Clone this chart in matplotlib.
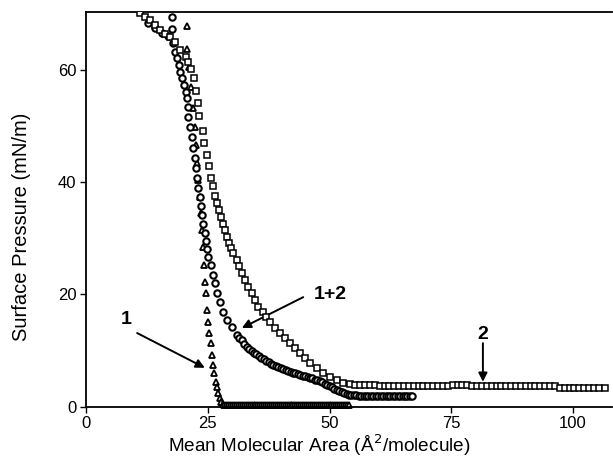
import matplotlib
matplotlib.use('Agg')
import matplotlib.pyplot as plt

plt.rcParams['font.family'] = ['Liberation Sans', 'DejaVu Sans']

# Isotherm 1 (triangles): steep rise, then collapsed plateau at ~0
tri_x = [20.7, 20.7, 21.1, 21.5, 22.0, 22.4, 22.6, 22.8, 23.1, 23.4, 23.6, 23.8,
         24.0, 24.2, 24.4, 24.6, 24.8, 25.1, 25.3, 25.6, 25.9, 26.1, 26.3, 26.6,
         26.9, 27.2, 27.5, 27.8, 28.1,
         28.4, 28.8, 29.2, 29.6, 30.0, 30.4, 30.8, 31.2, 31.6, 32.0, 32.4, 32.8,
         33.2, 33.6, 34.0, 34.4, 34.8, 35.2, 35.6, 36.0, 36.4, 36.8, 37.2, 37.6,
         38.0, 38.4, 38.8, 39.2, 39.6, 40.0, 40.4, 40.8, 41.2, 41.6, 42.0, 42.4,
         42.8, 43.2, 43.6, 44.0, 44.4, 44.8, 45.2, 45.6, 46.0, 46.4, 46.8, 47.2,
         47.6, 48.0, 48.4, 48.8, 49.2, 49.6, 50.0, 50.4, 50.8, 51.2, 51.6, 52.0,
         52.4, 52.8, 53.2, 53.6, 54.0]
tri_y = [67.9, 63.8, 60.5, 57.0, 53.2, 49.8, 46.6, 43.4, 40.4, 37.4, 34.5, 31.5,
         28.5, 25.2, 22.2, 20.2, 17.2, 15.1, 13.1, 11.3, 9.2, 7.4, 6.0, 4.4,
         3.5, 2.4, 1.5, 0.8, 0.4,
         0.3, 0.3, 0.3, 0.3, 0.3, 0.3, 0.3, 0.3, 0.3, 0.3, 0.3, 0.3,
         0.3, 0.3, 0.3, 0.3, 0.3, 0.3, 0.3, 0.3, 0.3, 0.3, 0.3, 0.3,
         0.3, 0.3, 0.3, 0.3, 0.3, 0.3, 0.3, 0.3, 0.3, 0.3, 0.3, 0.3,
         0.3, 0.3, 0.3, 0.3, 0.3, 0.3, 0.3, 0.3, 0.3, 0.3, 0.3, 0.3,
         0.3, 0.3, 0.3, 0.3, 0.3, 0.3, 0.3, 0.3, 0.3, 0.3, 0.3, 0.3,
         0.3, 0.3, 0.3, 0.3, 0.3]

# Mixture 1+2 (circles)
mix_x = [12.7, 14.2, 15.6, 16.8, 17.7, 17.7, 17.9, 18.3, 18.7, 19.0, 19.3, 19.7,
         20.1, 20.5, 20.7, 21.0, 21.0, 21.4, 21.7, 22.0, 22.4, 22.6, 22.8, 23.0,
         23.4, 23.7, 23.9, 24.1, 24.4, 24.6, 24.8, 25.1, 25.7, 26.1, 26.5, 26.9,
         27.5, 28.1, 29.0, 30.0, 31.0,
         31.5, 32.0, 32.5, 33.0, 33.5, 34.0, 34.5, 35.0, 35.5, 36.0, 36.5, 37.0,
         37.5, 38.0, 38.5, 39.0, 39.5, 40.0, 40.5, 41.0, 41.5, 42.0, 42.5, 43.0,
         43.5, 44.0, 44.5, 45.0, 45.5, 46.0, 46.5, 47.0, 47.5, 48.0, 48.5, 49.0,
         49.5, 50.0, 50.5, 51.0, 51.5, 52.0, 52.5, 53.0, 53.5, 54.0, 54.5, 55.0,
         55.5, 56.0, 56.5, 57.0, 57.5, 58.0, 58.5, 59.0, 59.5, 60.0, 60.5, 61.0,
         61.5, 62.0, 62.5, 63.0, 63.5, 64.0, 64.5, 65.0, 65.5, 66.0, 66.5, 67.0]
mix_y = [68.4, 67.5, 66.6, 66.0, 69.5, 67.3, 64.8, 63.2, 62.1, 60.9, 59.6, 58.5,
         57.3, 56.1, 55.0, 53.4, 51.6, 49.8, 48.1, 46.1, 44.3, 42.5, 40.7, 38.9,
         37.4, 35.8, 34.2, 32.6, 31.0, 29.5, 28.0, 26.6, 25.2, 23.4, 22.0, 20.2,
         18.6, 16.8, 15.4, 14.2, 12.8,
         12.3, 11.8, 11.2, 10.7, 10.3, 9.9, 9.6, 9.3, 9.0, 8.7, 8.5, 8.2,
         7.9, 7.6, 7.4, 7.2, 7.0, 6.8, 6.6, 6.5, 6.3, 6.2, 6.0, 5.9,
         5.8, 5.6, 5.5, 5.4, 5.3, 5.1, 5.0, 4.8, 4.7, 4.5, 4.3, 4.1,
         3.9, 3.7, 3.5, 3.2, 3.0, 2.8, 2.6, 2.4, 2.2, 2.1, 2.0, 2.0,
         2.0, 1.9, 1.9, 1.9, 1.9, 1.9, 1.9, 1.9, 1.9, 1.9, 1.9, 1.9,
         1.9, 1.9, 1.9, 1.9, 1.9, 1.9, 1.9, 1.9, 1.9, 1.9, 1.9, 1.9]

# Isotherm 2 (squares)
sq_x = [11.1, 12.1, 13.1, 14.2, 15.2, 16.2, 17.2, 18.3, 19.3, 20.5, 21.0, 21.6,
        22.2, 22.6, 23.0, 23.2, 24.0, 24.2, 24.8, 25.3, 25.7, 26.1, 26.5, 27.0,
        27.4, 27.8, 28.2, 28.6, 29.0, 29.4, 29.8, 30.2, 31.0, 31.4, 32.0, 32.6,
        33.3, 34.1, 34.7, 35.3, 36.3, 37.0, 37.8, 38.8, 39.8, 40.9, 41.9, 42.9,
        43.9, 45.0, 46.0, 47.4, 48.7, 50.1, 51.5, 52.8, 54.2, 55.2, 56.3, 57.3,
        58.3, 59.3, 60.3, 61.3, 62.3, 63.3, 64.3, 65.3, 66.3, 67.3, 68.3, 69.3,
        70.3, 71.3, 72.3, 73.3, 74.3, 75.3, 76.3, 77.3, 78.3, 79.3, 80.3, 81.3,
        82.3, 83.3, 84.3, 85.3, 86.3, 87.3, 88.3, 89.3, 90.3, 91.3, 92.3, 93.3,
        94.3, 95.3, 96.3, 97.3, 98.3, 99.3, 100.3, 101.3, 102.3, 103.3, 104.3,
        105.3, 106.5]
sq_y = [70.2, 69.5, 68.9, 68.0, 67.1, 66.5, 65.9, 65.0, 63.5, 62.3, 61.4, 60.2,
        58.6, 56.3, 54.1, 51.8, 49.1, 46.9, 44.8, 42.9, 40.7, 39.3, 37.5, 36.3,
        35.0, 33.8, 32.6, 31.4, 30.3, 29.2, 28.2, 27.3, 26.1, 25.0, 23.8, 22.6,
        21.3, 20.2, 19.0, 17.8, 16.8, 16.0, 15.1, 14.0, 13.1, 12.2, 11.3, 10.4,
        9.5, 8.6, 7.8, 6.9, 6.0, 5.3, 4.7, 4.2, 4.0, 3.9, 3.8, 3.8,
        3.8, 3.8, 3.7, 3.7, 3.7, 3.7, 3.7, 3.7, 3.7, 3.7, 3.7, 3.7,
        3.7, 3.7, 3.7, 3.7, 3.7, 3.8, 3.9, 3.9, 3.8, 3.7, 3.7, 3.7,
        3.7, 3.7, 3.7, 3.7, 3.7, 3.7, 3.7, 3.7, 3.7, 3.7, 3.7, 3.7,
        3.7, 3.7, 3.6, 3.3, 3.3, 3.3, 3.3, 3.3, 3.3, 3.3, 3.3,
        3.3, 3.3]

fig = plt.figure(figsize=(6.13, 4.62), dpi=100)
ax = fig.add_axes([0.1403, 0.1201, 0.858, 0.854])

ax.plot(tri_x, tri_y, linestyle='none', marker='^', markersize=4.8,
        markerfacecolor='white', markeredgecolor='black', markeredgewidth=1.3,
        clip_on=False, zorder=2)
ax.plot(mix_x, mix_y, linestyle='none', marker='o', markersize=4.6,
        markerfacecolor='white', markeredgecolor='black', markeredgewidth=1.5,
        zorder=3)
ax.plot(sq_x, sq_y, linestyle='none', marker='s', markersize=4.8,
        markerfacecolor='white', markeredgecolor='black', markeredgewidth=1.1,
        zorder=4)

arrow = dict(arrowstyle='-|>', color='black', lw=1.4, mutation_scale=13,
             shrinkA=0, shrinkB=0)
label_kw = dict(fontsize=14, fontweight='bold', ha='center', va='center')
ax.annotate('', xy=(24.4, 6.9), xytext=(10.5, 13.1), arrowprops=arrow)
ax.text(8.2, 15.6, '1', **label_kw)
ax.annotate('', xy=(32.0, 14.0), xytext=(44.6, 19.5), arrowprops=arrow)
ax.text(50.1, 19.9, '1+2', **label_kw)
ax.annotate('', xy=(81.5, 4.4), xytext=(81.5, 11.3), arrowprops=arrow)
ax.text(81.5, 12.9, '2', **label_kw)

ax.set_xlim(0, 108)
ax.set_ylim(0, 70.35)
ax.set_xticks([0, 25, 50, 75, 100])
ax.set_yticks([0, 20, 40, 60])
ax.tick_params(direction='out', length=4, width=1, labelsize=12, pad=3)
ax.spines['right'].set_visible(False)
for side in ['left', 'bottom', 'top']:
    ax.spines[side].set_linewidth(1.3)

ax.set_xlabel('Mean Molecular Area (Å$^2$/molecule)', fontsize=13.7)
ax.set_ylabel('Surface Pressure (mN/m)', fontsize=14.5)
ax.xaxis.set_label_coords(0.443, -0.066)
ax.yaxis.set_label_coords(-0.104, 0.455)

fig.savefig('out.png', dpi=100)
plt.close(fig)
